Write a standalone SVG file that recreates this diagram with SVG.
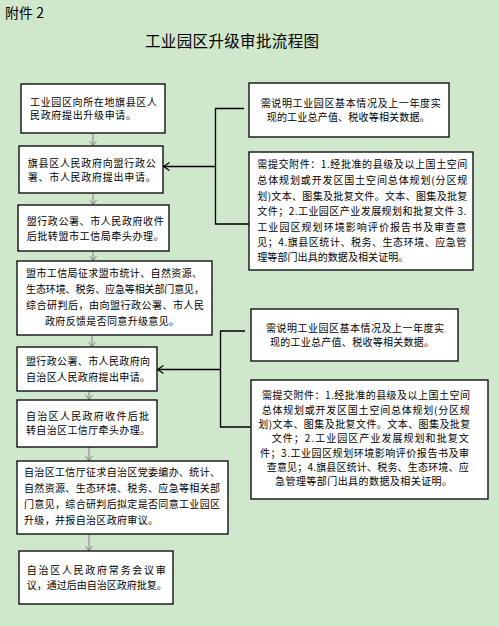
<svg xmlns="http://www.w3.org/2000/svg" width="499" height="626" viewBox="0 0 499 626">
<style>
text{font-family:"Noto Sans CJK SC","Noto Sans",sans-serif;fill:#000;}
.t{font-size:10px;}
.box{fill:#fff;stroke:#000;stroke-width:1.3;}
.g{stroke:#808080;stroke-width:1;fill:none;}
.k{stroke:#000;stroke-width:1.3;fill:none;}
</style>
<defs>
<marker id="ag" markerUnits="userSpaceOnUse" markerWidth="8" markerHeight="8" refX="4.5" refY="3.5" orient="auto">
<path d="M0,0 L4.5,3.5 L0,7" fill="none" stroke="#808080" stroke-width="1"/>
</marker>
<marker id="ak" markerUnits="userSpaceOnUse" markerWidth="10" markerHeight="10" refX="6" refY="4.5" orient="auto">
<path d="M0,0.5 L6,4.5 L0,8.5" fill="none" stroke="#000" stroke-width="1.2"/>
</marker>
</defs>
<rect x="0" y="0" width="499" height="626" fill="#cfe7cb"/>
<text x="5" y="18" font-size="14">附件 2</text>
<text x="145" y="47" font-size="15.5" textLength="174" lengthAdjust="spacing">工业园区升级审批流程图</text>

<g id="connectors">
<line class="g" x1="93" y1="133.5" x2="93" y2="145.5" marker-end="url(#ag)"/>
<line class="g" x1="93" y1="193.5" x2="93" y2="204.5" marker-end="url(#ag)"/>
<line class="g" x1="93" y1="251.5" x2="93" y2="260.5" marker-end="url(#ag)"/>
<line class="g" x1="92" y1="335.5" x2="92" y2="346.5" marker-end="url(#ag)"/>
<line class="g" x1="89" y1="391" x2="89" y2="399.5" marker-end="url(#ag)"/>
<line class="g" x1="89" y1="447" x2="89" y2="460.5" marker-end="url(#ag)"/>
<line class="g" x1="89" y1="534.5" x2="89" y2="550.5" marker-end="url(#ag)"/>
<polyline class="k" points="244,108.5 215.5,108.5 215.5,224 249,224"/>
<line class="k" x1="215.5" y1="166.5" x2="163.5" y2="166.5" marker-end="url(#ak)"/>
<polyline class="k" points="245,331 220.5,331 220.5,427 250.5,427"/>
<line class="k" x1="220.5" y1="369.5" x2="157.5" y2="369.5" marker-end="url(#ak)"/>
</g>

<g id="n1">
<rect class="box" x="21" y="84" width="144" height="49"/>
<text class="t" x="30" y="105.5" textLength="127" lengthAdjust="spacing">工业园区向所在地旗县区人</text>
<text class="t" x="30" y="119" textLength="106" lengthAdjust="spacing">民政府提出升级申请。</text>
</g>
<g id="n2">
<rect class="box" x="19" y="146" width="144" height="47"/>
<text class="t" x="27.7" y="167" textLength="128" lengthAdjust="spacing">旗县区人民政府向盟行政公</text>
<text class="t" x="27.7" y="181" textLength="128" lengthAdjust="spacing">署、市人民政府提出申请。</text>
</g>
<g id="n3">
<rect class="box" x="18" y="205" width="151" height="46"/>
<text class="t" x="26.7" y="224.5" textLength="137" lengthAdjust="spacing">盟行政公署、市人民政府收件</text>
<text class="t" x="26.7" y="239.5" textLength="137" lengthAdjust="spacing">后批转盟市工信局牵头办理。</text>
</g>
<g id="n4">
<rect class="box" x="17" y="261" width="195" height="74"/>
<text class="t" x="26" y="277" textLength="176" lengthAdjust="spacing">盟市工信局征求盟市统计、自然资源、</text>
<text class="t" x="26" y="293" textLength="178" lengthAdjust="spacing">生态环境、税务、应急等相关部门意见，</text>
<text class="t" x="26" y="309" textLength="178" lengthAdjust="spacing">综合研判后，由向盟行政公署、市人民</text>
<text class="t" x="45" y="325" textLength="134" lengthAdjust="spacing">政府反馈是否同意升级意见。</text>
</g>
<g id="n5">
<rect class="box" x="17" y="347" width="140" height="44"/>
<text class="t" x="26" y="365" textLength="124" lengthAdjust="spacing">盟行政公署、市人民政府向</text>
<text class="t" x="26" y="380.5" textLength="124" lengthAdjust="spacing">自治区人民政府提出申请。</text>
</g>
<g id="n6">
<rect class="box" x="17" y="400" width="140" height="47"/>
<text class="t" x="26" y="420" textLength="123" lengthAdjust="spacing">自治区人民政府收件后批</text>
<text class="t" x="26" y="434" textLength="124" lengthAdjust="spacing">转自治区工信厅牵头办理。</text>
</g>
<g id="n7">
<rect class="box" x="17" y="461" width="211" height="73"/>
<text class="t" x="24" y="476" textLength="196" lengthAdjust="spacing">自治区工信厅征求自治区党委编办、统计、</text>
<text class="t" x="24" y="492" textLength="196" lengthAdjust="spacing">自然资源、生态环境、税务、应急等相关部</text>
<text class="t" x="24" y="508" textLength="196" lengthAdjust="spacing">门意见，综合研判后拟定是否同意工业园区</text>
<text class="t" x="24" y="523.5" textLength="134" lengthAdjust="spacing">升级，并报自治区政府审议。</text>
</g>
<g id="n8">
<rect class="box" x="19" y="551" width="154" height="53"/>
<text class="t" x="26.7" y="573.5" textLength="139" lengthAdjust="spacing">自治区人民政府常务会议审</text>
<text class="t" x="26.7" y="589" textLength="140" lengthAdjust="spacing">议，通过后由自治区政府批复。</text>
</g>

<g id="r1">
<rect class="box" x="249" y="83" width="200" height="54"/>
<text class="t" x="260.7" y="106.5" textLength="180" lengthAdjust="spacing">需说明工业园区基本情况及上一年度实</text>
<text class="t" x="266.7" y="121" textLength="163" lengthAdjust="spacing">现的工业总产值、税收等相关数据。</text>
</g>
<g id="r2">
<rect class="box" x="249" y="152" width="224" height="118"/>
<text class="t" x="257.3" y="168" textLength="210" lengthAdjust="spacing">需提交附件：1.经批准的县级及以上国土空间</text>
<text class="t" x="257.3" y="184" textLength="210" lengthAdjust="spacing">总体规划或开发区国土空间总体规划(分区规</text>
<text class="t" x="257.3" y="199.5" textLength="210" lengthAdjust="spacing">划)文本、图集及批复文件。文本、图集及批复</text>
<text class="t" x="257.3" y="215" textLength="209" lengthAdjust="spacing">文件；2.工业园区产业发展规划和批复文件 3.</text>
<text class="t" x="257.3" y="231" textLength="209" lengthAdjust="spacing">工业园区规划环境影响评价报告书及审查意</text>
<text class="t" x="257.3" y="246" textLength="209" lengthAdjust="spacing">见；4.旗县区统计、税务、生态环境、应急管</text>
<text class="t" x="257.3" y="261" textLength="151" lengthAdjust="spacing">理等部门出具的数据及相关证明。</text>
</g>
<g id="r3">
<rect class="box" x="251" y="309" width="207" height="52"/>
<text class="t" x="266" y="331.5" textLength="178" lengthAdjust="spacing">需说明工业园区基本情况及上一年度实</text>
<text class="t" x="270" y="345.5" textLength="164" lengthAdjust="spacing">现的工业总产值、税收等相关数据。</text>
</g>
<g id="r4">
<rect class="box" x="251" y="380" width="237" height="119"/>
<text class="t" x="262" y="399" textLength="208" lengthAdjust="spacing">需提交附件：1.经批准的县级及以上国土空间</text>
<text class="t" x="261.7" y="413.5" textLength="208" lengthAdjust="spacing">总体规划或开发区国土空间总体规划(分区规</text>
<text class="t" x="258.3" y="427.5" textLength="212" lengthAdjust="spacing">划)文本、图集及批复文件。文本、图集及批复</text>
<text class="t" x="271.7" y="442" textLength="197" lengthAdjust="spacing">文件；2.工业园区产业发展规划和批复文</text>
<text class="t" x="260" y="456.5" textLength="209" lengthAdjust="spacing">件；3.工业园区规划环境影响评价报告书及审</text>
<text class="t" x="266.7" y="471" textLength="202" lengthAdjust="spacing">查意见；4.旗县区统计、税务、生态环境、应</text>
<text class="t" x="275" y="485" textLength="177" lengthAdjust="spacing">急管理等部门出具的数据及相关证明。</text>
</g>
</svg>
